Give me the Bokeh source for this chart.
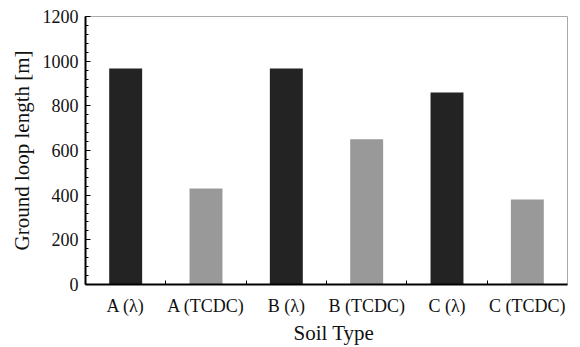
from bokeh.plotting import figure
from bokeh.models import FixedTicker, SingleIntervalTicker, Range1d, Title
from bokeh.embed import file_html
from bokeh.resources import INLINE

categories = ["A (λ)", "A (TCDC)", "B (λ)", "B (TCDC)", "C (λ)", "C (TCDC)"]
lengths = [967, 430, 967, 650, 860, 381]
colors = ["#232323", "#999999", "#232323", "#999999", "#232323", "#999999"]
x_title = "Soil Type"
y_title = "Ground loop length [m]"

xs = [i + 0.5 for i in range(len(categories))]

p = figure(frame_width=482, frame_height=268, output_backend="svg", toolbar_location=None,
           x_range=Range1d(0, len(categories)), y_range=Range1d(0, 1200),
           min_border_left=85, min_border_top=16, min_border_right=13, min_border_bottom=63)

p.vbar(x=xs, top=lengths, width=0.41, color=colors, line_color=None)

p.grid.visible = False
p.outline_line_color = "#aaaaaa"
p.outline_line_width = 1
p.background_fill_color = "white"
p.border_fill_color = "white"

font = "Liberation Serif"

xa = p.xaxis[0]
xa.ticker = FixedTicker(ticks=xs, minor_ticks=list(range(1, len(categories))))
xa.major_label_overrides = {x: c for x, c in zip(xs, categories)}
xa.major_tick_line_color = None
xa.minor_tick_in = 4
xa.minor_tick_out = 0
xa.minor_tick_line_color = "black"
xa.axis_line_width = 2
xa.axis_line_color = "black"
xa.major_label_text_font = font
xa.major_label_text_font_size = "18px"
xa.major_label_text_color = "#111111"
xa.major_label_standoff = 5

t = Title(text=x_title, align="left", offset=208, standoff=0,
          text_font=font, text_font_size="21px", text_font_style="normal",
          text_color="#111111")
p.add_layout(t, "below")

ya = p.yaxis[0]
ya.ticker = SingleIntervalTicker(interval=200, num_minor_ticks=5)
ya.major_tick_in = 5
ya.major_tick_out = 0
ya.minor_tick_in = 3
ya.minor_tick_out = 0
ya.major_tick_line_color = "black"
ya.minor_tick_line_color = "black"
ya.axis_line_width = 2
ya.axis_line_color = "black"
ya.major_label_text_font = font
ya.major_label_text_font_size = "18px"
ya.major_label_text_color = "#111111"
ya.major_label_standoff = 7
ya.axis_label = y_title
ya.axis_label_text_font = font
ya.axis_label_text_font_size = "21px"
ya.axis_label_text_font_style = "normal"
ya.axis_label_text_color = "#111111"
ya.axis_label_standoff = 6

open("out.html", "w").write(file_html(p, INLINE))
